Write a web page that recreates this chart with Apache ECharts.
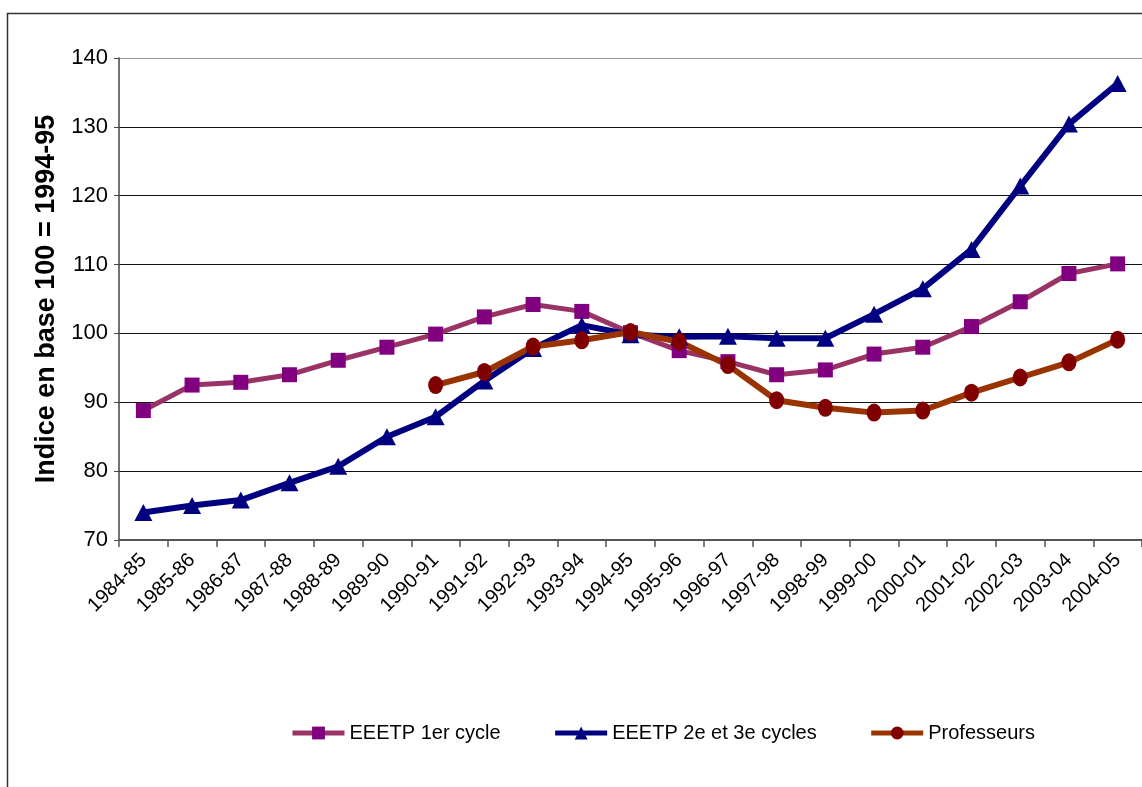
<!DOCTYPE html>
<html>
<head>
<meta charset="utf-8">
<script src="https://cdn.jsdelivr.net/npm/echarts@6/dist/echarts.min.js"></script>
<style>
html,body{margin:0;padding:0;background:#fff;}
#chart{width:1142px;height:787px;}
</style>
</head>
<body>
<div id="chart"></div>
<script>
// categories (school years)
var years = ['1984-85','1985-86','1986-87','1987-88','1988-89','1989-90','1990-91','1991-92','1992-93','1993-94',
  '1994-95','1995-96','1996-97','1997-98','1998-99','1999-00','2000-01','2001-02','2002-03','2003-04','2004-05'];

// index values, base 100 = 1994-95
var cycle1 = [88.8,92.5,92.9,94.0,96.1,98.0,99.9,102.4,104.2,103.2,100.1,97.5,95.9,94.0,94.7,97.0,98.0,101.0,104.6,108.7,110.1];
var cycle23 = [74.0,75.0,75.8,78.3,80.7,85.0,87.9,93.1,97.8,101.2,99.8,99.5,99.6,99.3,99.3,102.8,106.5,112.2,121.4,130.4,136.3];
var profs = [null,null,null,null,null,null,92.5,94.4,98.1,99.0,100.2,98.8,95.4,90.3,89.2,88.5,88.8,91.4,93.6,95.8,99.1];

var yTicks = {min:70, max:140, interval:10};

var FONT = '"Liberation Sans", Arial, sans-serif';

var myChart = echarts.init(document.getElementById('chart'));
myChart.setOption({
  animation:false,
  backgroundColor:'#fff',
  graphic:[{
    type:'rect',
    shape:{x:7.5,y:13.5,width:1300,height:900},
    style:{fill:'none',stroke:'#333',lineWidth:1.5},
    silent:true
  }],
  grid:{
    left:119,
    right:-11,
    top:58,
    bottom:247
  },
  legend:{
    left:285,
    top:718,
    itemWidth:52,
    itemHeight:16,
    itemGap:52,
    lineStyle:{width:5},
    textStyle:{fontFamily:FONT,fontSize:20,color:'#000'},
    data:['EEETP 1er cycle','EEETP 2e et 3e cycles','Professeurs']
  },
  xAxis:{
    type:'category',
    data:years,
    boundaryGap:true,
    axisLine:{lineStyle:{color:'#555',width:2}},
    axisTick:{show:true,length:7,lineStyle:{color:'#555',width:1.5}},
    axisLabel:{
      rotate:45,
      margin:17,
      interval:0,
      fontFamily:FONT,
      fontSize:20,
      color:'#000'
    },
    splitLine:{show:false}
  },
  yAxis:{
    type:'value',
    min:yTicks.min,
    max:yTicks.max,
    interval:yTicks.interval,
    name:'Indice en base 100 = 1994-95',
    nameLocation:'middle',
    nameGap:58,
    nameTextStyle:{fontFamily:FONT,fontWeight:'bold',fontSize:27,color:'#000'},
    axisLine:{show:true,lineStyle:{color:'#444',width:1.5}},
    axisTick:{show:true,length:5,lineStyle:{color:'#444'}},
    axisLabel:{fontFamily:FONT,fontSize:22,color:'#000',margin:11},
    splitLine:{show:true,lineStyle:{color:['#000','#111','#111','#111','#111','#111','#111','#999'],width:1.2}}
  },
  series:[
    {
      name:'EEETP 1er cycle',
      type:'line',
      data:cycle1,
      symbol:'rect',
      symbolSize:15,
      lineStyle:{color:'#993366',width:5},
      itemStyle:{color:'#800080',borderWidth:0}
    },
    {
      name:'EEETP 2e et 3e cycles',
      type:'line',
      data:cycle23,
      symbol:'triangle',
      symbolSize:[18,17],
      lineStyle:{color:'#000080',width:6},
      itemStyle:{color:'#000080',borderWidth:0}
    },
    {
      name:'Professeurs',
      type:'line',
      data:profs,
      symbol:'circle',
      symbolSize:[15,18],
      lineStyle:{color:'#993300',width:6},
      itemStyle:{color:'#800000',borderWidth:0}
    }
  ]
});
</script>
</body>
</html>
